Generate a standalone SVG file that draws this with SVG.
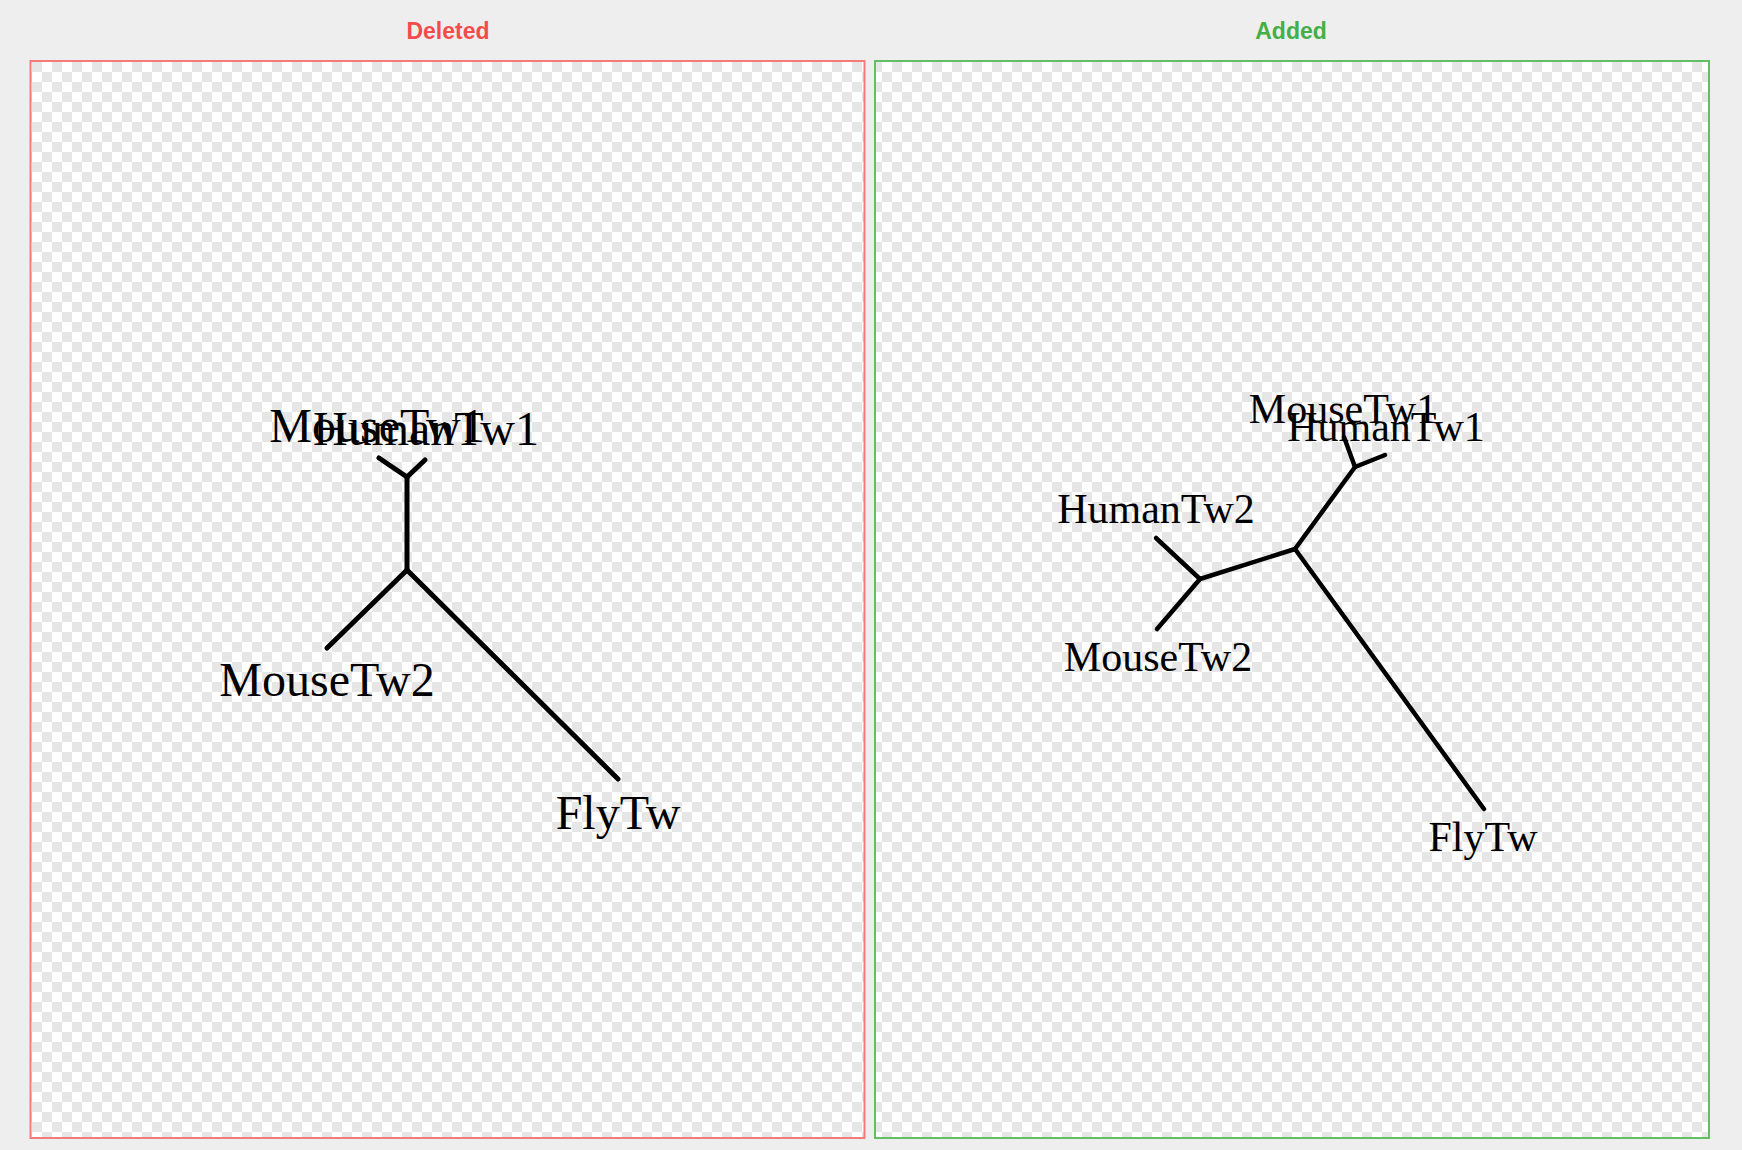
<svg xmlns="http://www.w3.org/2000/svg" width="1742" height="1150" viewBox="0 0 1742 1150">
<style>
.title{font-family:"Liberation Sans",Arial,sans-serif;font-weight:bold;font-size:23px;text-anchor:middle}
.lbl{font-family:"Liberation Serif","Times New Roman",serif;fill:#000;text-anchor:middle}
.l48{font-size:48px}
.l42{font-size:42px}
.edge{stroke:#000;fill:none;stroke-linecap:round;stroke-linejoin:round}
.e5{stroke-width:5}
.e4{stroke-width:4.5}
</style>
<defs>
<pattern id="chk" patternUnits="userSpaceOnUse" x="32" y="62" width="20" height="20">
<rect width="20" height="20" fill="#ffffff"/>
<rect width="10" height="10" fill="#e6e6e6"/>
<rect x="10" y="10" width="10" height="10" fill="#e6e6e6"/>
</pattern>
</defs>
<rect width="1742" height="1150" fill="#eeeeee"/>
<g id="panel-deleted">
<text class="title" x="448" y="39" fill="#f44b4b">Deleted</text>
<rect x="30.5" y="61" width="834" height="1077" fill="url(#chk)" stroke="#f57a7a" stroke-width="2"/>
</g>
<g id="panel-added">
<text class="title" x="1291" y="39" fill="#45ae45">Added</text>
<rect x="875" y="61" width="834" height="1077" fill="url(#chk)" stroke="#62bf62" stroke-width="2"/>
</g>
<g id="connectors">
<g class="edge e5">
<line x1="407" y1="477" x2="379" y2="458"/>
<line x1="407" y1="477" x2="425" y2="460"/>
<line x1="407" y1="477" x2="407" y2="570"/>
<line x1="407" y1="570" x2="327" y2="648"/>
<line x1="407" y1="570" x2="618" y2="779"/>
</g>
<g class="edge e4">
<line x1="1355" y1="467" x2="1344" y2="437"/>
<line x1="1355" y1="467" x2="1385" y2="455"/>
<line x1="1355" y1="467" x2="1295" y2="549"/>
<line x1="1295" y1="549" x2="1200" y2="579"/>
<line x1="1200" y1="579" x2="1156" y2="538"/>
<line x1="1200" y1="579" x2="1157" y2="629"/>
<line x1="1295" y1="549" x2="1484" y2="809"/>
</g>
</g>
<g id="node-del-mousetw1"><text class="lbl l48" x="377" y="442">MouseTw1</text></g>
<g id="node-del-humantw1"><text class="lbl l48" x="426" y="445">HumanTw1</text></g>
<g id="node-del-mousetw2"><text class="lbl l48" x="327" y="696">MouseTw2</text></g>
<g id="node-del-flytw"><text class="lbl l48" x="618" y="829">FlyTw</text></g>
<g id="node-add-mousetw1"><text class="lbl l42" x="1343" y="423">MouseTw1</text></g>
<g id="node-add-humantw1"><text class="lbl l42" x="1386" y="441">HumanTw1</text></g>
<g id="node-add-humantw2"><text class="lbl l42" x="1156" y="523">HumanTw2</text></g>
<g id="node-add-mousetw2"><text class="lbl l42" x="1158" y="671">MouseTw2</text></g>
<g id="node-add-flytw"><text class="lbl l42" x="1483" y="851">FlyTw</text></g>
</svg>
